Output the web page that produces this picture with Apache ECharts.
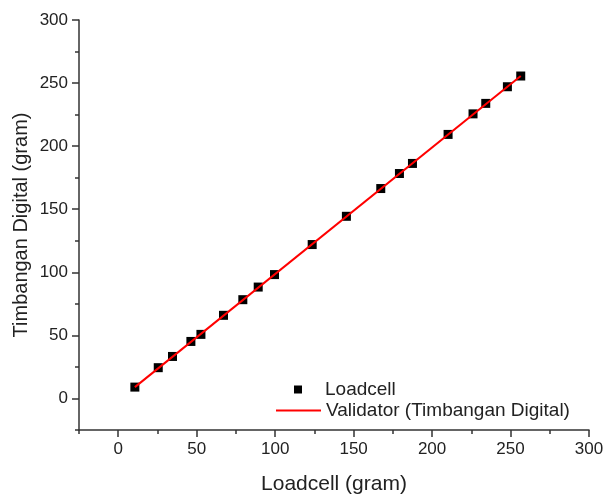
<!DOCTYPE html>
<html>
<head>
<meta charset="utf-8">
<script src="https://cdn.jsdelivr.net/npm/echarts@6/dist/echarts.min.js"></script>
<style>html,body{margin:0;padding:0;background:#fff}#c{width:604px;height:495px}</style>
</head>
<body>
<div id="c"></div>
<script>
const loadcellX = [10.6, 25.5, 34.6, 46.3, 52.7, 67.1, 79.4, 89.2, 99.6, 123.6, 145.4, 167.3, 179.2, 187.5, 210.2, 226.1, 234.2, 248.0, 256.5];
const timbanganY = [9.0, 24.4, 33.3, 45.2, 50.8, 65.9, 78.3, 88.3, 98.2, 122.0, 144.4, 166.4, 178.3, 186.3, 209.3, 225.6, 233.9, 247.1, 255.6];
const validatorX = [10.6, 256.5];
const validatorY = [9.0, 255.6];
const majorTicks = [0, 50, 100, 150, 200, 250, 300];
const minorTicks = [-25, 25, 75, 125, 175, 225, 275];
const xTitle = 'Loadcell (gram)';
const yTitle = 'Timbangan Digital (gram)';
const scatterName = 'Loadcell';
const lineName = 'Validator (Timbangan Digital)';

const FONT = 'Liberation Sans, Arial, sans-serif';
const axisColor = '#333';
const fmt = v => (v >= 0 && v % 50 === 0) ? String(v) : '';

function mainAxis(extra) {
  return Object.assign({
    type: 'value', min: -25, max: 300, interval: 25,
    axisLine: { show: true, onZero: false, lineStyle: { color: axisColor, width: 1.5 } },
    axisTick: { show: true, inside: false, length: 7, customValues: majorTicks, lineStyle: { color: axisColor, width: 1.5 } },
    splitLine: { show: false },
    nameLocation: 'middle',
    nameMoveOverlap: false,
    nameTextStyle: { color: '#222', fontFamily: FONT, fontSize: 20 }
  }, extra);
}
function minorAxis(extra) {
  return Object.assign({
    type: 'value', min: -25, max: 300, interval: 25,
    axisLine: { show: false, onZero: false },
    axisTick: { show: true, inside: false, length: 4, customValues: minorTicks, lineStyle: { color: axisColor, width: 1.5 } },
    axisLabel: { show: false },
    splitLine: { show: false }
  }, extra);
}

const chart = echarts.init(document.getElementById('c'), null, { renderer: 'canvas' });
chart.setOption({
  animation: false,
  backgroundColor: '#fff',
  grid: { left: 79, right: 15, top: 20, bottom: 65, containLabel: false, outerBoundsMode: 'none' },
  xAxis: [
    mainAxis({ position: 'bottom', name: xTitle, nameGap: 44,
      axisLabel: { formatter: fmt, color: '#222', fontFamily: FONT, fontSize: 17, margin: 11 },
      nameTextStyle: { color: '#222', fontFamily: FONT, fontSize: 21 } }),
    minorAxis({ position: 'bottom' })
  ],
  yAxis: [
    mainAxis({ position: 'left', name: yTitle, nameGap: 48,
      axisLabel: { formatter: fmt, color: '#222', fontFamily: FONT, fontSize: 17, margin: 11 },
      nameTextStyle: { color: '#222', fontFamily: FONT, fontSize: 20 } }),
    minorAxis({ position: 'left' })
  ],
  legend: [
    { data: [{ name: scatterName, icon: 'rect' }], left: 294, top: 380, padding: 0, itemWidth: 8, itemHeight: 8,
      itemStyle: { color: '#000', borderWidth: 0, opacity: 1 },
      textStyle: { fontFamily: FONT, fontSize: 19, color: '#222', padding: [0, 0, 0, 18] } },
    { data: [{ name: lineName, icon: 'rect' }], left: 276, top: 401, padding: 0, itemWidth: 45, itemHeight: 2,
      itemStyle: { color: '#ff0000', borderWidth: 0 },
      textStyle: { fontFamily: FONT, fontSize: 19, color: '#222' } }
  ],
  series: [
    { name: scatterName, type: 'scatter', xAxisIndex: 0, yAxisIndex: 0, symbol: 'rect', symbolSize: 9,
      itemStyle: { color: '#000', borderWidth: 0, opacity: 1 },
      data: loadcellX.map((x, i) => [x, timbanganY[i]]), z: 2 },
    { name: lineName, type: 'line', xAxisIndex: 0, yAxisIndex: 0, symbol: 'none', showSymbol: false,
      lineStyle: { color: '#ff0000', width: 2 }, itemStyle: { color: '#ff0000' },
      data: validatorX.map((x, i) => [x, validatorY[i]]), z: 3 }
  ]
});
</script>
</body>
</html>
